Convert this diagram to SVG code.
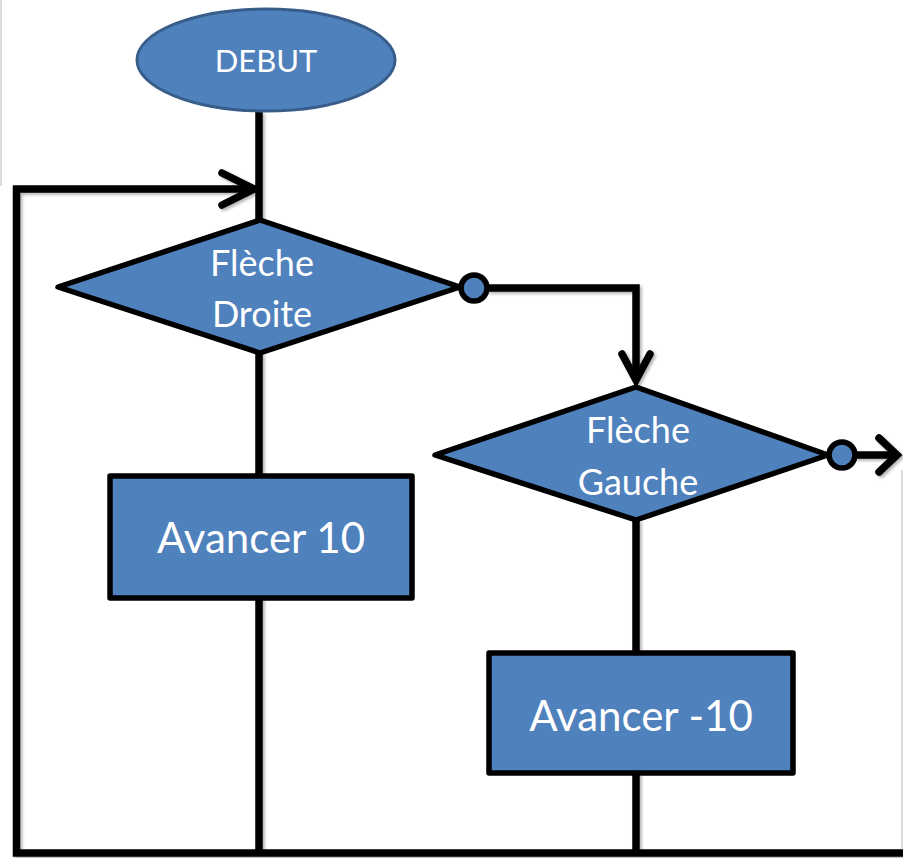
<svg xmlns="http://www.w3.org/2000/svg" width="903" height="858" viewBox="0 0 903 858">
<defs>
<filter id="sh" x="-10%" y="-10%" width="120%" height="120%">
<feDropShadow dx="2" dy="2" stdDeviation="1.5" flood-color="#000" flood-opacity="0.3"/>
</filter>
<style>
.ln{fill:none;stroke:#000;stroke-width:7.5;stroke-linejoin:miter;stroke-linecap:butt}
.ar{fill:none;stroke:#000;stroke-width:7.5;stroke-linecap:round;stroke-linejoin:miter}
.sh{fill:#4F81BD;stroke:#000;stroke-width:5.5;stroke-linejoin:round}
.tx{fill:#fff;font-family:Lato,"Liberation Sans",sans-serif;text-anchor:middle}
</style>
</defs>
<rect width="903" height="858" fill="#fff"/>
<line x1="1" y1="0" x2="1" y2="186" stroke="#ddd" stroke-width="2"/>
<line x1="902" y1="470" x2="902" y2="850" stroke="#ddd" stroke-width="2"/>
<g id="connectors" filter="url(#sh)">
<line class="ln" x1="259" y1="112" x2="259" y2="222"/>
<polyline class="ln" points="903,853 16.5,853 16.5,189 256,189"/>
<polyline class="ar" points="222,173 254,189 222,205"/>
<line class="ln" x1="259" y1="353" x2="259" y2="477"/>
<line class="ln" x1="259" y1="597" x2="259" y2="853"/>
<polyline class="ln" points="487,288 636,288 636,381"/>
<polyline class="ar" points="622,354 636,380 650,354"/>
<line class="ln" x1="636" y1="520" x2="636" y2="655"/>
<line class="ln" x1="636" y1="772" x2="636" y2="853"/>
<line class="ln" x1="855" y1="455" x2="898" y2="455"/>
<polyline class="ar" points="879,438 897,455 879,472"/>
</g>
<g id="debut">
<ellipse cx="266" cy="60" rx="129" ry="51" fill="#4F81BD" stroke="#385D8A" stroke-width="3"/>
<text class="tx" x="266" y="72" font-size="31">DEBUT</text>
</g>
<g id="fleche-droite">
<polygon class="sh" points="58,287 260,220 460,287 260,353"/>
<text class="tx" x="262" y="276" font-size="36">Flèche</text>
<text class="tx" x="262" y="327" font-size="36">Droite</text>
<circle class="sh" cx="474" cy="288" r="13"/>
</g>
<g id="fleche-gauche">
<polygon class="sh" points="435,455 636,387 828,455 636,520"/>
<text class="tx" x="638" y="443" font-size="36">Flèche</text>
<text class="tx" x="638" y="495" font-size="36">Gauche</text>
<circle class="sh" cx="842" cy="455" r="13"/>
</g>
<g id="avancer-10">
<rect class="sh" x="110" y="476" width="302" height="122"/>
<text class="tx" x="261" y="553" font-size="42">Avancer 10</text>
</g>
<g id="avancer-moins-10">
<rect class="sh" x="489" y="653" width="304" height="120"/>
<text class="tx" x="641" y="731" font-size="42">Avancer -10</text>
</g>
</svg>
